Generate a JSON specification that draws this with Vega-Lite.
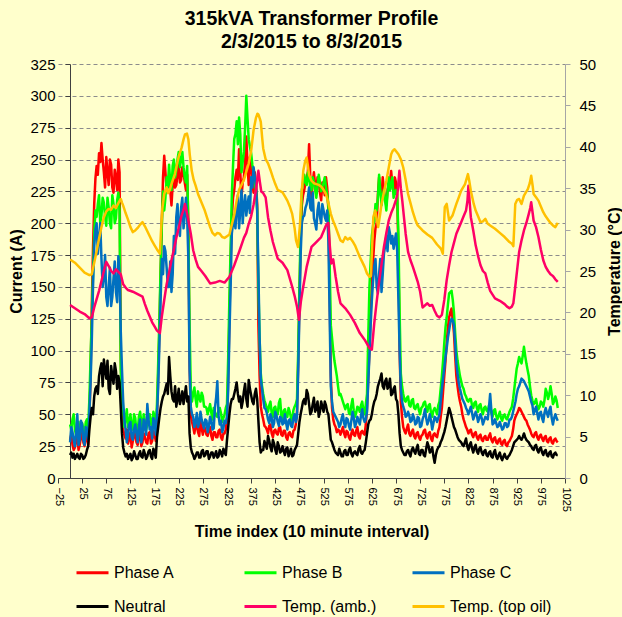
{
  "$schema": "https://vega.github.io/schema/vega-lite/v6.json",
  "autosize": "none",
  "width": 507,
  "height": 414,
  "padding": {"left": 58, "top": 64, "right": 57, "bottom": 139},
  "background": "#FFFFCC",
  "config": {
    "view": {"stroke": null},
    "font": "Liberation Sans",
    "axis": {"labelFont": "Liberation Sans", "titleFont": "Liberation Sans", "labelColor": "#000000", "titleColor": "#000000", "labelFontSize": 15, "titleFontSize": 16, "titleFontWeight": "bold"},
    "legend": {"padding": 0}
  },
  "title": {"text": ["315kVA Transformer Profile", "2/3/2015 to 8/3/2015"], "font": "Liberation Sans", "fontSize": 19.5, "fontWeight": "bold", "color": "#000000", "anchor": "middle", "offset": 5, "lineHeight": 23},
  "datasets": {
    "cur": [
      {"x":0,"a":30,"b":42,"c":28,"n":18},{"x":5,"a":26,"b":46,"c":36,"n":16},{"x":10,"a":24,"b":38,"c":25,"n":15},{"x":15,"a":33,"b":40,"c":50,"n":19},{"x":20,"a":26,"b":35,"c":30,"n":15},
      {"x":25,"a":36,"b":43,"c":42,"n":18},{"x":30,"a":25,"b":34,"c":26,"n":16},{"x":35,"a":31,"b":46,"c":38,"n":22},{"x":40,"a":48,"b":62,"c":52,"n":38},{"x":45,"a":135,"b":125,"c":108,"n":55},
      {"x":50,"a":215,"b":192,"c":182,"n":64},{"x":55,"a":245,"b":205,"c":200,"n":72},{"x":60,"a":255,"b":222,"c":188,"n":80},{"x":65,"a":263,"b":206,"c":172,"n":90},{"x":70,"a":240,"b":216,"c":158,"n":93},
      {"x":75,"a":252,"b":198,"c":142,"n":78},{"x":80,"a":230,"b":212,"c":150,"n":70},{"x":85,"a":246,"b":196,"c":135,"n":88},{"x":90,"a":224,"b":215,"c":157,"n":74},{"x":95,"a":236,"b":204,"c":146,"n":84},
      {"x":100,"a":250,"b":224,"c":174,"n":80},{"x":105,"a":95,"b":85,"c":115,"n":55},{"x":110,"a":38,"b":52,"c":60,"n":24},{"x":115,"a":31,"b":46,"c":38,"n":17},{"x":120,"a":27,"b":40,"c":34,"n":15},
      {"x":125,"a":36,"b":50,"c":44,"n":19},{"x":130,"a":29,"b":38,"c":30,"n":16},{"x":135,"a":33,"b":47,"c":42,"n":18},{"x":140,"a":26,"b":36,"c":28,"n":15},{"x":145,"a":35,"b":52,"c":46,"n":21},
      {"x":150,"a":28,"b":39,"c":33,"n":16},{"x":155,"a":32,"b":45,"c":40,"n":19},{"x":160,"a":27,"b":42,"c":58,"n":17},{"x":165,"a":36,"b":50,"c":38,"n":22},{"x":170,"a":29,"b":38,"c":31,"n":15},
      {"x":175,"a":34,"b":48,"c":44,"n":20},{"x":180,"a":48,"b":58,"c":50,"n":32},{"x":185,"a":115,"b":125,"c":105,"n":48},{"x":190,"a":200,"b":198,"c":172,"n":60},{"x":195,"a":253,"b":210,"c":182,"n":66},
      {"x":200,"a":226,"b":236,"c":165,"n":74},{"x":205,"a":238,"b":246,"c":150,"n":95},{"x":210,"a":214,"b":226,"c":146,"n":68},{"x":215,"a":242,"b":250,"c":190,"n":60},{"x":220,"a":230,"b":242,"c":205,"n":56},
      {"x":225,"a":246,"b":256,"c":198,"n":70},{"x":230,"a":234,"b":250,"c":212,"n":62},{"x":235,"a":240,"b":244,"c":196,"n":58},{"x":240,"a":226,"b":232,"c":220,"n":72},{"x":245,"a":200,"b":192,"c":172,"n":64},
      {"x":250,"a":50,"b":70,"c":56,"n":24},{"x":255,"a":40,"b":66,"c":48,"n":18},{"x":260,"a":42,"b":62,"c":44,"n":17},{"x":265,"a":36,"b":68,"c":40,"n":20},{"x":270,"a":44,"b":60,"c":52,"n":16},
      {"x":275,"a":34,"b":64,"c":42,"n":22},{"x":280,"a":38,"b":56,"c":46,"n":18},{"x":285,"a":33,"b":50,"c":36,"n":21},{"x":290,"a":40,"b":58,"c":48,"n":17},{"x":295,"a":30,"b":46,"c":38,"n":20},
      {"x":300,"a":36,"b":52,"c":55,"n":18},{"x":305,"a":32,"b":48,"c":76,"n":16},{"x":310,"a":38,"b":55,"c":42,"n":22},{"x":315,"a":30,"b":44,"c":36,"n":17},{"x":320,"a":35,"b":50,"c":45,"n":20},
      {"x":325,"a":46,"b":58,"c":48,"n":30},{"x":330,"a":125,"b":142,"c":112,"n":50},{"x":335,"a":205,"b":222,"c":192,"n":62},{"x":340,"a":226,"b":266,"c":206,"n":66},{"x":345,"a":242,"b":280,"c":212,"n":75},
      {"x":350,"a":258,"b":283,"c":196,"n":60},{"x":355,"a":220,"b":240,"c":226,"n":55},{"x":360,"a":236,"b":256,"c":214,"n":68},{"x":365,"a":268,"b":300,"c":206,"n":62},{"x":370,"a":230,"b":266,"c":221,"n":77},
      {"x":375,"a":246,"b":255,"c":236,"n":65},{"x":380,"a":224,"b":240,"c":244,"n":58},{"x":385,"a":232,"b":226,"c":230,"n":70},{"x":390,"a":120,"b":150,"c":162,"n":45},{"x":395,"a":56,"b":82,"c":78,"n":20},
      {"x":400,"a":46,"b":66,"c":62,"n":22},{"x":405,"a":40,"b":58,"c":54,"n":26},{"x":410,"a":35,"b":52,"c":46,"n":33},{"x":415,"a":42,"b":60,"c":50,"n":24},{"x":420,"a":32,"b":48,"c":40,"n":30},
      {"x":425,"a":38,"b":56,"c":52,"n":22},{"x":430,"a":34,"b":50,"c":44,"n":28},{"x":435,"a":40,"b":62,"c":48,"n":20},{"x":440,"a":33,"b":46,"c":42,"n":25},{"x":445,"a":37,"b":54,"c":50,"n":18},
      {"x":450,"a":30,"b":48,"c":38,"n":24},{"x":455,"a":36,"b":52,"c":46,"n":20},{"x":460,"a":32,"b":44,"c":40,"n":17},{"x":465,"a":38,"b":56,"c":50,"n":22},{"x":470,"a":52,"b":62,"c":48,"n":26},
      {"x":475,"a":140,"b":150,"c":130,"n":44},{"x":480,"a":214,"b":226,"c":200,"n":55},{"x":485,"a":226,"b":238,"c":206,"n":62},{"x":490,"a":236,"b":230,"c":215,"n":69},{"x":495,"a":262,"b":236,"c":228,"n":58},
      {"x":500,"a":220,"b":226,"c":210,"n":52},{"x":505,"a":240,"b":232,"c":204,"n":63},{"x":510,"a":224,"b":220,"c":195,"n":55},{"x":515,"a":232,"b":238,"c":216,"n":48},{"x":520,"a":218,"b":225,"c":200,"n":60},
      {"x":525,"a":228,"b":232,"c":210,"n":52},{"x":530,"a":236,"b":228,"c":202,"n":57},{"x":535,"a":210,"b":214,"c":186,"n":50},{"x":540,"a":80,"b":120,"c":72,"n":30},{"x":545,"a":46,"b":100,"c":52,"n":25},
      {"x":550,"a":40,"b":86,"c":48,"n":20},{"x":555,"a":38,"b":72,"c":44,"n":18},{"x":560,"a":34,"b":66,"c":42,"n":20},{"x":565,"a":40,"b":60,"c":50,"n":17},{"x":570,"a":32,"b":54,"c":40,"n":22},
      {"x":575,"a":36,"b":58,"c":46,"n":18},{"x":580,"a":30,"b":50,"c":38,"n":24},{"x":585,"a":38,"b":62,"c":52,"n":17},{"x":590,"a":33,"b":48,"c":40,"n":21},{"x":595,"a":40,"b":56,"c":48,"n":18},
      {"x":600,"a":31,"b":52,"c":42,"n":25},{"x":605,"a":37,"b":60,"c":54,"n":19},{"x":610,"a":34,"b":50,"c":44,"n":22},{"x":615,"a":55,"b":66,"c":52,"n":35},{"x":620,"a":100,"b":150,"c":96,"n":45},
      {"x":625,"a":150,"b":190,"c":140,"n":50},{"x":630,"a":186,"b":202,"c":166,"n":60},{"x":635,"a":200,"b":210,"c":150,"n":66},{"x":640,"a":236,"b":238,"c":160,"n":75},{"x":645,"a":220,"b":214,"c":146,"n":82},
      {"x":650,"a":226,"b":226,"c":176,"n":70},{"x":655,"a":214,"b":210,"c":190,"n":78},{"x":660,"a":230,"b":236,"c":197,"n":72},{"x":665,"a":241,"b":230,"c":184,"n":65},{"x":670,"a":224,"b":220,"c":180,"n":70},
      {"x":675,"a":232,"b":226,"c":192,"n":62},{"x":680,"a":180,"b":190,"c":140,"n":50},{"x":685,"a":60,"b":82,"c":70,"n":25},{"x":690,"a":40,"b":66,"c":56,"n":20},{"x":695,"a":35,"b":60,"c":48,"n":18},
      {"x":700,"a":42,"b":64,"c":52,"n":22},{"x":705,"a":33,"b":56,"c":44,"n":17},{"x":710,"a":38,"b":62,"c":50,"n":24},{"x":715,"a":31,"b":54,"c":42,"n":19},{"x":720,"a":36,"b":58,"c":48,"n":26},
      {"x":725,"a":30,"b":50,"c":40,"n":18},{"x":730,"a":34,"b":56,"c":46,"n":22},{"x":735,"a":38,"b":60,"c":54,"n":17},{"x":740,"a":31,"b":52,"c":42,"n":28},{"x":745,"a":36,"b":58,"c":50,"n":20},
      {"x":750,"a":29,"b":48,"c":38,"n":24},{"x":755,"a":35,"b":55,"c":48,"n":12},{"x":760,"a":32,"b":50,"c":44,"n":22},{"x":765,"a":40,"b":60,"c":50,"n":25},{"x":770,"a":55,"b":80,"c":70,"n":30},
      {"x":775,"a":80,"b":106,"c":86,"n":36},{"x":780,"a":106,"b":126,"c":102,"n":45},{"x":785,"a":126,"b":145,"c":116,"n":55},{"x":790,"a":133,"b":147,"c":125,"n":48},{"x":795,"a":114,"b":130,"c":120,"n":40},
      {"x":800,"a":80,"b":100,"c":90,"n":35},{"x":805,"a":65,"b":86,"c":75,"n":30},{"x":810,"a":56,"b":76,"c":66,"n":28},{"x":815,"a":46,"b":70,"c":60,"n":25},{"x":820,"a":40,"b":64,"c":55,"n":31},
      {"x":825,"a":35,"b":60,"c":50,"n":22},{"x":830,"a":38,"b":62,"c":56,"n":28},{"x":835,"a":32,"b":55,"c":46,"n":20},{"x":840,"a":36,"b":60,"c":52,"n":26},{"x":845,"a":30,"b":52,"c":44,"n":19},
      {"x":850,"a":34,"b":58,"c":50,"n":24},{"x":855,"a":29,"b":50,"c":42,"n":18},{"x":860,"a":33,"b":56,"c":48,"n":22},{"x":865,"a":30,"b":52,"c":46,"n":17},{"x":870,"a":35,"b":58,"c":66,"n":21},
      {"x":875,"a":28,"b":48,"c":42,"n":16},{"x":880,"a":32,"b":54,"c":46,"n":22},{"x":885,"a":27,"b":46,"c":40,"n":15},{"x":890,"a":31,"b":52,"c":44,"n":20},{"x":895,"a":26,"b":45,"c":38,"n":14},
      {"x":900,"a":30,"b":50,"c":43,"n":19},{"x":905,"a":25,"b":46,"c":40,"n":15},{"x":910,"a":29,"b":52,"c":46,"n":18},{"x":915,"a":33,"b":56,"c":48,"n":22},{"x":920,"a":45,"b":70,"c":56,"n":28},
      {"x":925,"a":50,"b":86,"c":66,"n":30},{"x":930,"a":55,"b":95,"c":72,"n":33},{"x":935,"a":52,"b":90,"c":78,"n":30},{"x":940,"a":48,"b":103,"c":76,"n":35},{"x":945,"a":45,"b":90,"c":72,"n":30},
      {"x":950,"a":40,"b":80,"c":68,"n":28},{"x":955,"a":35,"b":65,"c":60,"n":25},{"x":960,"a":32,"b":58,"c":50,"n":22},{"x":965,"a":36,"b":62,"c":56,"n":26},{"x":970,"a":30,"b":54,"c":46,"n":20},
      {"x":975,"a":34,"b":60,"c":52,"n":24},{"x":980,"a":29,"b":56,"c":44,"n":18},{"x":985,"a":33,"b":70,"c":55,"n":22},{"x":990,"a":28,"b":62,"c":48,"n":17},{"x":995,"a":32,"b":72,"c":56,"n":21},
      {"x":1000,"a":27,"b":58,"c":42,"n":16},{"x":1005,"a":31,"b":64,"c":50,"n":20},{"x":1010,"a":28,"b":55,"c":45,"n":18},
      {"x":2.5,"a":34,"b":38,"c":40,"n":20},{"x":7.5,"a":22,"b":50,"c":30,"n":19},{"x":12.5,"a":30,"b":34,"c":36,"n":17},{"x":17.5,"a":22,"b":44,"c":26,"n":16},{"x":22.5,"a":32,"b":40,"c":45,"n":19},
      {"x":27.5,"a":28,"b":38,"c":30,"n":15},{"x":32.5,"a":34,"b":44,"c":40,"n":18},{"x":37.5,"a":26,"b":40,"c":30,"n":25},{"x":42.5,"a":80,"b":95,"c":75,"n":48},{"x":47.5,"a":180,"b":160,"c":150,"n":50},
      {"x":52.5,"a":235,"b":210,"c":195,"n":70},{"x":57.5,"a":238,"b":215,"c":176,"n":66},{"x":62.5,"a":248,"b":200,"c":200,"n":86},{"x":67.5,"a":250,"b":220,"c":150,"n":72},{"x":72.5,"a":228,"b":205,"c":175,"n":85},
      {"x":77.5,"a":240,"b":220,"c":135,"n":92},{"x":82.5,"a":250,"b":200,"c":165,"n":66},{"x":87.5,"a":228,"b":222,"c":142,"n":80},{"x":92.5,"a":242,"b":200,"c":170,"n":90},{"x":97.5,"a":226,"b":218,"c":138,"n":70},
      {"x":102.5,"a":240,"b":210,"c":160,"n":75},{"x":107.5,"a":50,"b":60,"c":85,"n":35},{"x":112.5,"a":34,"b":40,"c":46,"n":20},{"x":117.5,"a":38,"b":54,"c":28,"n":19},{"x":122.5,"a":31,"b":44,"c":42,"n":17},
      {"x":127.5,"a":24,"b":40,"c":32,"n":14},{"x":132.5,"a":37,"b":50,"c":38,"n":21},{"x":137.5,"a":28,"b":36,"c":35,"n":15},{"x":142.5,"a":33,"b":48,"c":40,"n":19},{"x":147.5,"a":25,"b":44,"c":28,"n":17},
      {"x":152.5,"a":35,"b":50,"c":46,"n":22},{"x":157.5,"a":28,"b":38,"c":34,"n":15},{"x":162.5,"a":35,"b":50,"c":46,"n":21},{"x":167.5,"a":27,"b":44,"c":40,"n":17},{"x":172.5,"a":37,"b":52,"c":47,"n":23},
      {"x":177.5,"a":29,"b":42,"c":34,"n":16},{"x":182.5,"a":80,"b":90,"c":72,"n":40},{"x":187.5,"a":160,"b":165,"c":140,"n":55},{"x":192.5,"a":236,"b":225,"c":160,"n":64},{"x":197.5,"a":240,"b":220,"c":178,"n":70},
      {"x":202.5,"a":232,"b":228,"c":150,"n":66},{"x":207.5,"a":226,"b":232,"c":170,"n":80},{"x":212.5,"a":230,"b":245,"c":160,"n":62},{"x":217.5,"a":228,"b":236,"c":176,"n":72},{"x":222.5,"a":238,"b":250,"c":215,"n":62},
      {"x":227.5,"a":232,"b":244,"c":190,"n":58},{"x":232.5,"a":244,"b":256,"c":220,"n":68},{"x":237.5,"a":232,"b":236,"c":206,"n":65},{"x":242.5,"a":238,"b":245,"c":205,"n":60},{"x":247.5,"a":90,"b":120,"c":85,"n":35},
      {"x":252.5,"a":44,"b":60,"c":50,"n":20},{"x":257.5,"a":35,"b":71,"c":40,"n":15},{"x":262.5,"a":41,"b":56,"c":51,"n":20},{"x":267.5,"a":33,"b":63,"c":43,"n":16},{"x":272.5,"a":39,"b":67,"c":46,"n":21},
      {"x":277.5,"a":41,"b":56,"c":39,"n":17},{"x":282.5,"a":34,"b":55,"c":45,"n":21},{"x":287.5,"a":38,"b":54,"c":41,"n":15},{"x":292.5,"a":33,"b":51,"c":45,"n":20},{"x":297.5,"a":36,"b":55,"c":39,"n":16},
      {"x":302.5,"a":32,"b":49,"c":63,"n":21},{"x":307.5,"a":37,"b":53,"c":49,"n":17},{"x":312.5,"a":32,"b":51,"c":45,"n":20},{"x":317.5,"a":35,"b":47,"c":39,"n":23},{"x":322.5,"a":38,"b":55,"c":43,"n":18},
      {"x":327.5,"a":80,"b":95,"c":70,"n":40},{"x":332.5,"a":170,"b":180,"c":150,"n":58},{"x":337.5,"a":220,"b":245,"c":200,"n":62},{"x":342.5,"a":236,"b":270,"c":196,"n":70},{"x":347.5,"a":234,"b":262,"c":222,"n":66},
      {"x":352.5,"a":240,"b":270,"c":210,"n":64},{"x":357.5,"a":232,"b":248,"c":200,"n":60},{"x":362.5,"a":248,"b":275,"c":222,"n":74},{"x":367.5,"a":245,"b":282,"c":215,"n":56},{"x":372.5,"a":252,"b":260,"c":208,"n":70},
      {"x":377.5,"a":232,"b":246,"c":228,"n":60},{"x":382.5,"a":240,"b":232,"c":236,"n":66},{"x":387.5,"a":215,"b":210,"c":210,"n":62},{"x":392.5,"a":80,"b":110,"c":110,"n":28},{"x":397.5,"a":50,"b":72,"c":70,"n":22},
      {"x":402.5,"a":41,"b":61,"c":55,"n":29},{"x":407.5,"a":38,"b":55,"c":51,"n":23},{"x":412.5,"a":41,"b":57,"c":43,"n":29},{"x":417.5,"a":35,"b":51,"c":47,"n":21},{"x":422.5,"a":37,"b":55,"c":43,"n":27},
      {"x":427.5,"a":35,"b":51,"c":49,"n":19},{"x":432.5,"a":39,"b":59,"c":41,"n":25},{"x":437.5,"a":34,"b":49,"c":47,"n":21},{"x":442.5,"a":37,"b":53,"c":43,"n":21},{"x":447.5,"a":32,"b":49,"c":43,"n":23},
      {"x":452.5,"a":35,"b":55,"c":45,"n":17},{"x":457.5,"a":33,"b":47,"c":41,"n":23},{"x":462.5,"a":37,"b":53,"c":47,"n":18},{"x":467.5,"a":42,"b":58,"c":44,"n":24},{"x":472.5,"a":90,"b":100,"c":85,"n":35},
      {"x":477.5,"a":185,"b":195,"c":175,"n":50},{"x":482.5,"a":222,"b":232,"c":205,"n":60},{"x":487.5,"a":232,"b":232,"c":212,"n":58},{"x":492.5,"a":240,"b":240,"c":220,"n":66},{"x":497.5,"a":236,"b":228,"c":212,"n":50},
      {"x":502.5,"a":232,"b":236,"c":224,"n":58},{"x":507.5,"a":230,"b":226,"c":200,"n":52},{"x":512.5,"a":236,"b":230,"c":210,"n":60},{"x":517.5,"a":224,"b":232,"c":205,"n":52},{"x":522.5,"a":232,"b":228,"c":215,"n":56},
      {"x":527.5,"a":222,"b":236,"c":205,"n":60},{"x":532.5,"a":228,"b":222,"c":210,"n":52},{"x":537.5,"a":150,"b":170,"c":130,"n":40},{"x":542.5,"a":55,"b":110,"c":60,"n":28},{"x":547.5,"a":42,"b":92,"c":50,"n":22},
      {"x":552.5,"a":36,"b":80,"c":46,"n":19},{"x":557.5,"a":37,"b":65,"c":40,"n":23},{"x":562.5,"a":37,"b":63,"c":47,"n":17},{"x":567.5,"a":35,"b":57,"c":43,"n":21},{"x":572.5,"a":37,"b":57,"c":47,"n":18},
      {"x":577.5,"a":32,"b":51,"c":41,"n":22},{"x":582.5,"a":35,"b":57,"c":45,"n":19},{"x":587.5,"a":34,"b":53,"c":47,"n":20},{"x":592.5,"a":37,"b":51,"c":43,"n":19},{"x":597.5,"a":33,"b":55,"c":45,"n":23},
      {"x":602.5,"a":36,"b":57,"c":49,"n":20},{"x":607.5,"a":35,"b":53,"c":47,"n":21},{"x":612.5,"a":42,"b":58,"c":46,"n":28},{"x":617.5,"a":78,"b":110,"c":75,"n":42},{"x":622.5,"a":130,"b":170,"c":120,"n":46},
      {"x":627.5,"a":170,"b":198,"c":155,"n":56},{"x":632.5,"a":196,"b":215,"c":172,"n":62},{"x":637.5,"a":222,"b":220,"c":145,"n":72},{"x":642.5,"a":224,"b":226,"c":172,"n":78},{"x":647.5,"a":236,"b":222,"c":160,"n":72},
      {"x":652.5,"a":218,"b":218,"c":182,"n":76},{"x":657.5,"a":226,"b":224,"c":178,"n":70},{"x":662.5,"a":232,"b":226,"c":192,"n":78},{"x":667.5,"a":230,"b":236,"c":190,"n":66},{"x":672.5,"a":236,"b":224,"c":186,"n":72},
      {"x":677.5,"a":220,"b":222,"c":178,"n":60},{"x":682.5,"a":100,"b":130,"c":100,"n":35},{"x":687.5,"a":48,"b":72,"c":60,"n":22},{"x":692.5,"a":37,"b":61,"c":53,"n":18},{"x":697.5,"a":39,"b":63,"c":49,"n":21},
      {"x":702.5,"a":35,"b":57,"c":49,"n":19},{"x":707.5,"a":36,"b":61,"c":45,"n":22},{"x":712.5,"a":33,"b":55,"c":47,"n":21},{"x":717.5,"a":35,"b":57,"c":43,"n":23},{"x":722.5,"a":32,"b":53,"c":47,"n":19},
      {"x":727.5,"a":33,"b":55,"c":41,"n":22},{"x":732.5,"a":37,"b":59,"c":49,"n":18},{"x":737.5,"a":33,"b":55,"c":47,"n":23},{"x":742.5,"a":35,"b":57,"c":45,"n":25},{"x":747.5,"a":31,"b":51,"c":45,"n":21},
      {"x":752.5,"a":34,"b":53,"c":43,"n":17},{"x":757.5,"a":33,"b":53,"c":47,"n":18},{"x":762.5,"a":37,"b":57,"c":47,"n":24},{"x":767.5,"a":48,"b":70,"c":60,"n":28},{"x":772.5,"a":68,"b":92,"c":78,"n":33},
      {"x":777.5,"a":92,"b":118,"c":95,"n":40},{"x":782.5,"a":118,"b":136,"c":110,"n":50},{"x":787.5,"a":130,"b":146,"c":122,"n":52},{"x":792.5,"a":124,"b":140,"c":124,"n":44},{"x":797.5,"a":96,"b":114,"c":106,"n":38},
      {"x":802.5,"a":72,"b":92,"c":82,"n":32},{"x":807.5,"a":60,"b":80,"c":70,"n":29},{"x":812.5,"a":50,"b":72,"c":62,"n":26},{"x":817.5,"a":43,"b":66,"c":58,"n":28},{"x":822.5,"a":38,"b":61,"c":53,"n":25},
      {"x":827.5,"a":37,"b":62,"c":53,"n":26},{"x":832.5,"a":34,"b":57,"c":51,"n":23},{"x":837.5,"a":35,"b":59,"c":49,"n":24},{"x":842.5,"a":32,"b":55,"c":49,"n":21},{"x":847.5,"a":33,"b":57,"c":47,"n":23},
      {"x":852.5,"a":30,"b":53,"c":47,"n":20},{"x":857.5,"a":32,"b":55,"c":45,"n":21},{"x":862.5,"a":30,"b":53,"c":47,"n":18},{"x":867.5,"a":33,"b":57,"c":55,"n":20},{"x":872.5,"a":30,"b":51,"c":53,"n":17},
      {"x":877.5,"a":31,"b":53,"c":43,"n":20},{"x":882.5,"a":28,"b":49,"c":43,"n":17},{"x":887.5,"a":30,"b":49,"c":41,"n":18},{"x":892.5,"a":27,"b":47,"c":41,"n":16},{"x":897.5,"a":29,"b":49,"c":39,"n":17},
      {"x":902.5,"a":26,"b":47,"c":43,"n":16},{"x":907.5,"a":28,"b":49,"c":41,"n":17},{"x":912.5,"a":31,"b":54,"c":46,"n":20},{"x":917.5,"a":38,"b":62,"c":52,"n":25},{"x":922.5,"a":48,"b":78,"c":60,"n":29},
      {"x":927.5,"a":52,"b":90,"c":70,"n":31},{"x":932.5,"a":54,"b":92,"c":75,"n":31},{"x":937.5,"a":50,"b":96,"c":77,"n":32},{"x":942.5,"a":46,"b":96,"c":74,"n":32},{"x":947.5,"a":42,"b":85,"c":70,"n":29},
      {"x":952.5,"a":38,"b":72,"c":64,"n":26},{"x":957.5,"a":33,"b":61,"c":57,"n":23},{"x":962.5,"a":35,"b":59,"c":53,"n":25},{"x":967.5,"a":32,"b":57,"c":51,"n":22},{"x":972.5,"a":33,"b":56,"c":51,"n":23},
      {"x":977.5,"a":31,"b":59,"c":47,"n":20},{"x":982.5,"a":32,"b":61,"c":51,"n":21},{"x":987.5,"a":29,"b":67,"c":51,"n":18},{"x":992.5,"a":31,"b":66,"c":53,"n":20},{"x":997.5,"a":28,"b":66,"c":47,"n":17},
      {"x":1002.5,"a":30,"b":60,"c":47,"n":19},{"x":1007.5,"a":29,"b":61,"c":47,"n":18}
    ],
    "amb": [
      {"x":0,"t":20.9},{"x":10,"t":20.5},{"x":20,"t":20.1},{"x":30,"t":19.8},{"x":40,"t":19.3},{"x":45,"t":19.4},{"x":50,"t":20.6},{"x":55,"t":21.6},{"x":60,"t":22.6},{"x":65,"t":23.8},
      {"x":70,"t":25.0},{"x":75,"t":26.1},{"x":80,"t":25.6},{"x":85,"t":25.0},{"x":90,"t":24.7},{"x":95,"t":25.2},{"x":100,"t":24.9},{"x":105,"t":24.6},{"x":110,"t":23.4},{"x":115,"t":23.0},
      {"x":120,"t":22.7},{"x":130,"t":22.5},{"x":140,"t":22.2},{"x":150,"t":21.9},{"x":155,"t":21.0},{"x":160,"t":20.2},{"x":165,"t":19.5},{"x":170,"t":18.8},{"x":175,"t":18.3},{"x":180,"t":17.8},
      {"x":186,"t":17.5},{"x":190,"t":19.5},{"x":195,"t":21.5},{"x":200,"t":23.4},{"x":205,"t":24.8},{"x":210,"t":26.3},{"x":215,"t":27.6},{"x":220,"t":29.0},{"x":225,"t":30.2},{"x":230,"t":31.5},
      {"x":235,"t":32.4},{"x":238,"t":33.1},{"x":242,"t":32.0},{"x":245,"t":31.1},{"x":250,"t":29.5},{"x":255,"t":27.5},{"x":260,"t":26.4},{"x":265,"t":25.5},{"x":272,"t":25.0},{"x":280,"t":24.4},
      {"x":290,"t":23.5},{"x":300,"t":23.6},{"x":310,"t":23.8},{"x":320,"t":23.6},{"x":330,"t":24.3},{"x":340,"t":25.7},{"x":350,"t":27.3},{"x":360,"t":29.0},{"x":365,"t":29.6},{"x":370,"t":30.7},
      {"x":375,"t":31.6},{"x":380,"t":33.0},{"x":385,"t":34.8},{"x":390,"t":37.1},{"x":393,"t":35.8},{"x":396,"t":34.6},{"x":400,"t":34.4},{"x":405,"t":33.9},{"x":410,"t":31.5},{"x":415,"t":29.9},
      {"x":420,"t":28.5},{"x":430,"t":26.5},{"x":440,"t":26.0},{"x":450,"t":25.1},{"x":460,"t":23.1},{"x":465,"t":22.0},{"x":470,"t":20.7},{"x":474,"t":19.1},{"x":478,"t":21.3},{"x":482,"t":22.8},
      {"x":490,"t":25.5},{"x":500,"t":27.9},{"x":510,"t":28.5},{"x":520,"t":29.1},{"x":530,"t":30.5},{"x":535,"t":30.8},{"x":538,"t":28.0},{"x":541,"t":25.9},{"x":545,"t":26.4},{"x":550,"t":24.3},
      {"x":555,"t":22.5},{"x":560,"t":21.1},{"x":570,"t":20.5},{"x":580,"t":19.7},{"x":590,"t":18.7},{"x":600,"t":17.5},{"x":610,"t":16.7},{"x":620,"t":15.7},{"x":625,"t":15.5},{"x":630,"t":18.7},
      {"x":635,"t":21.3},{"x":640,"t":23.7},{"x":645,"t":25.8},{"x":650,"t":27.9},{"x":655,"t":29.6},{"x":660,"t":31.1},{"x":665,"t":32.0},{"x":670,"t":32.7},{"x":675,"t":33.6},{"x":678,"t":34.3},
      {"x":682,"t":37.1},{"x":685,"t":35.0},{"x":688,"t":33.5},{"x":692,"t":31.2},{"x":695,"t":29.5},{"x":700,"t":27.3},{"x":705,"t":26.3},{"x":710,"t":25.5},{"x":720,"t":23.7},{"x":725,"t":22.5},
      {"x":730,"t":20.6},{"x":740,"t":21.1},{"x":745,"t":20.8},{"x":750,"t":20.9},{"x":755,"t":20.2},{"x":760,"t":19.6},{"x":765,"t":19.4},{"x":770,"t":19.7},{"x":775,"t":21.5},{"x":780,"t":23.9},
      {"x":785,"t":25.7},{"x":790,"t":27.3},{"x":795,"t":28.4},{"x":800,"t":29.5},{"x":805,"t":30.2},{"x":810,"t":30.9},{"x":815,"t":31.6},{"x":820,"t":32.3},{"x":823,"t":33.5},{"x":825,"t":35.3},
      {"x":828,"t":33.0},{"x":830,"t":31.5},{"x":835,"t":29.9},{"x":840,"t":28.1},{"x":845,"t":26.8},{"x":850,"t":25.7},{"x":855,"t":25.0},{"x":860,"t":24.7},{"x":865,"t":23.6},{"x":870,"t":22.6},
      {"x":880,"t":21.7},{"x":890,"t":21.4},{"x":900,"t":21.0},{"x":905,"t":20.7},{"x":910,"t":20.5},{"x":915,"t":20.7},{"x":918,"t":21.1},{"x":922,"t":23.1},{"x":926,"t":25.2},{"x":930,"t":27.3},
      {"x":935,"t":28.7},{"x":940,"t":29.9},{"x":945,"t":30.8},{"x":950,"t":31.9},{"x":953,"t":32.6},{"x":955,"t":33.3},{"x":958,"t":32.0},{"x":960,"t":31.1},{"x":965,"t":30.3},{"x":970,"t":29.1},
      {"x":975,"t":27.6},{"x":980,"t":26.3},{"x":985,"t":25.5},{"x":990,"t":25.0},{"x":995,"t":24.6},{"x":1000,"t":24.4},{"x":1005,"t":24.0},{"x":1010,"t":23.7}
    ],
    "oil": [
      {"x":0,"o":26.4},{"x":10,"o":26.0},{"x":20,"o":25.4},{"x":30,"o":24.8},{"x":40,"o":24.5},{"x":45,"o":24.6},{"x":50,"o":26.0},{"x":55,"o":27.4},{"x":60,"o":28.9},{"x":65,"o":30.3},
      {"x":70,"o":31.5},{"x":75,"o":32.2},{"x":80,"o":32.5},{"x":85,"o":32.4},{"x":90,"o":32.9},{"x":95,"o":32.6},{"x":100,"o":33.2},{"x":105,"o":33.7},{"x":108,"o":33.2},{"x":110,"o":32.9},
      {"x":115,"o":32.0},{"x":120,"o":31.2},{"x":125,"o":30.3},{"x":130,"o":29.7},{"x":135,"o":29.9},{"x":140,"o":30.2},{"x":145,"o":30.6},{"x":150,"o":30.9},{"x":155,"o":30.4},{"x":160,"o":29.8},
      {"x":165,"o":29.2},{"x":170,"o":28.6},{"x":175,"o":28.1},{"x":180,"o":27.6},{"x":186,"o":27.1},{"x":188,"o":29.5},{"x":191,"o":32.5},{"x":195,"o":34.3},{"x":200,"o":35.1},{"x":203,"o":34.4},
      {"x":206,"o":34.7},{"x":210,"o":35.5},{"x":217,"o":36.7},{"x":221,"o":37.8},{"x":225,"o":38.8},{"x":231,"o":39.9},{"x":235,"o":40.9},{"x":238,"o":41.5},{"x":242,"o":41.6},{"x":245,"o":40.9},
      {"x":248,"o":39.0},{"x":252,"o":37.1},{"x":256,"o":36.0},{"x":260,"o":35.3},{"x":265,"o":34.3},{"x":272,"o":33.3},{"x":279,"o":32.3},{"x":285,"o":31.2},{"x":290,"o":30.3},{"x":295,"o":29.6},
      {"x":300,"o":29.3},{"x":305,"o":29.6},{"x":310,"o":29.5},{"x":315,"o":29.1},{"x":320,"o":29.0},{"x":325,"o":29.2},{"x":330,"o":29.4},{"x":335,"o":30.6},{"x":340,"o":31.8},{"x":345,"o":33.5},
      {"x":350,"o":34.8},{"x":355,"o":35.4},{"x":360,"o":36.0},{"x":365,"o":37.0},{"x":370,"o":38.0},{"x":375,"o":39.5},{"x":380,"o":42.0},{"x":385,"o":43.5},{"x":388,"o":44.0},{"x":390,"o":43.9},
      {"x":393,"o":43.4},{"x":395,"o":43.0},{"x":398,"o":41.0},{"x":400,"o":39.8},{"x":405,"o":38.5},{"x":410,"o":38.0},{"x":415,"o":37.2},{"x":420,"o":36.3},{"x":425,"o":35.5},{"x":430,"o":34.8},
      {"x":440,"o":34.5},{"x":445,"o":34.0},{"x":450,"o":33.5},{"x":455,"o":32.8},{"x":460,"o":31.9},{"x":465,"o":30.2},{"x":468,"o":28.7},{"x":472,"o":27.9},{"x":476,"o":30.5},{"x":479,"o":34.0},
      {"x":483,"o":37.1},{"x":487,"o":38.3},{"x":490,"o":38.7},{"x":493,"o":37.5},{"x":495,"o":36.6},{"x":500,"o":35.9},{"x":505,"o":35.6},{"x":510,"o":35.5},{"x":515,"o":35.4},{"x":520,"o":35.2},
      {"x":525,"o":34.8},{"x":530,"o":34.3},{"x":535,"o":33.2},{"x":540,"o":31.9},{"x":545,"o":31.0},{"x":550,"o":30.3},{"x":555,"o":29.5},{"x":560,"o":28.7},{"x":565,"o":28.5},{"x":570,"o":29.1},
      {"x":575,"o":28.8},{"x":580,"o":29.0},{"x":585,"o":28.6},{"x":590,"o":28.1},{"x":595,"o":27.4},{"x":600,"o":26.7},{"x":605,"o":26.1},{"x":610,"o":25.5},{"x":615,"o":24.7},{"x":620,"o":24.3},
      {"x":623,"o":24.4},{"x":626,"o":28.5},{"x":628,"o":31.5},{"x":632,"o":32.3},{"x":635,"o":31.3},{"x":638,"o":30.3},{"x":642,"o":31.8},{"x":645,"o":33.1},{"x":650,"o":34.5},{"x":655,"o":35.9},
      {"x":660,"o":37.5},{"x":665,"o":39.1},{"x":668,"o":39.5},{"x":672,"o":39.7},{"x":676,"o":39.4},{"x":680,"o":39.1},{"x":685,"o":38.5},{"x":690,"o":37.5},{"x":695,"o":36.0},{"x":700,"o":34.3},
      {"x":705,"o":33.2},{"x":710,"o":32.1},{"x":715,"o":31.2},{"x":720,"o":30.5},{"x":730,"o":29.9},{"x":740,"o":29.4},{"x":750,"o":29.0},{"x":760,"o":28.2},{"x":768,"o":27.7},{"x":772,"o":27.1},
      {"x":774,"o":30.0},{"x":776,"o":32.7},{"x":780,"o":33.1},{"x":785,"o":31.1},{"x":792,"o":31.7},{"x":800,"o":33.1},{"x":805,"o":33.9},{"x":810,"o":34.7},{"x":818,"o":35.5},{"x":824,"o":36.7},
      {"x":827,"o":35.8},{"x":830,"o":34.7},{"x":836,"o":33.1},{"x":840,"o":32.3},{"x":845,"o":31.6},{"x":850,"o":30.9},{"x":855,"o":31.0},{"x":860,"o":31.3},{"x":865,"o":30.7},{"x":870,"o":30.5},
      {"x":880,"o":30.1},{"x":890,"o":29.6},{"x":900,"o":29.1},{"x":910,"o":28.5},{"x":915,"o":28.3},{"x":918,"o":28.0},{"x":920,"o":30.5},{"x":922,"o":33.1},{"x":926,"o":33.6},{"x":930,"o":33.7},
      {"x":935,"o":33.1},{"x":940,"o":34.1},{"x":944,"o":34.5},{"x":948,"o":34.9},{"x":952,"o":35.6},{"x":955,"o":36.5},{"x":958,"o":35.3},{"x":960,"o":34.3},{"x":965,"o":33.9},{"x":970,"o":33.5},
      {"x":975,"o":32.8},{"x":980,"o":32.1},{"x":985,"o":31.6},{"x":990,"o":31.2},{"x":995,"o":30.8},{"x":1000,"o":30.5},{"x":1005,"o":30.3},{"x":1010,"o":30.8}
    ]
  },
  "encoding": {
    "x": {
      "field": "x", "type": "quantitative",
      "scale": {"domain": [-25, 1025], "nice": false, "zero": false},
      "axis": {
        "title": "Time index (10 minute interval)",
        "values": [-25,25,75,125,175,225,275,325,375,425,475,525,575,625,675,725,775,825,875,925,975,1025],
        "format": "d",
        "labelAngle": 90, "labelFontSize": 11, "labelPadding": 4, "labelFlush": false, "labelOverlap": false,
        "domainColor": "#404040", "tickColor": "#404040", "tickSize": 5, "grid": false,
        "titleY": 53, "titleBaseline": "middle", "titleFontSize": 16
      }
    }
  },
  "layer": [
    {
      "data": {"name": "cur"},
      "transform": [{"fold": ["a", "b", "c", "n"], "as": ["k", "v"]}],
      "mark": {"type": "line", "strokeWidth": 2.5, "strokeJoin": "round"},
      "encoding": {
        "y": {
          "field": "v", "type": "quantitative",
          "scale": {"domain": [0, 325], "nice": false},
          "axis": {
            "title": "Current (A)", "orient": "left", "offset": -12,
            "values": [0,25,50,75,100,125,150,175,200,225,250,275,300,325],
            "grid": true, "gridDash": [4, 3], "gridColor": "#8c8c8c", "gridWidth": 1,
            "domainColor": "#404040", "tickColor": "#404040", "tickSize": 5, "labelPadding": 10,
            "titleX": -54, "titleY": 207, "titleAngle": 270, "titleAlign": "center", "titleBaseline": "middle"
          }
        },
        "color": {
          "field": "k", "type": "nominal",
          "scale": {"domain": ["a", "b", "c", "n", "t", "o"], "range": ["#FF0000", "#00FF00", "#0070C0", "#000000", "#FF0066", "#FFC000"]},
          "legend": {
            "title": null, "orient": "none", "legendX": 17, "legendY": 491, "direction": "horizontal", "columns": 3,
            "gridAlign": "all", "columnPadding": 22, "rowPadding": 8,
            "symbolType": "stroke", "symbolSize": 1024, "symbolStrokeWidth": 3,
            "labelFont": "Liberation Sans", "labelFontSize": 16, "labelColor": "#000000", "labelOffset": 4,
            "labelExpr": "datum.label == 'a' ? 'Phase A' : datum.label == 'b' ? 'Phase B' : datum.label == 'c' ? 'Phase C' : datum.label == 'n' ? 'Neutral' : datum.label == 't' ? 'Temp. (amb.)' : 'Temp. (top oil)'"
          }
        }
      }
    },
    {
      "layer": [
        {
          "data": {"name": "amb"},
          "transform": [{"fold": ["t"], "as": ["k", "v"]}],
          "mark": {"type": "line", "strokeWidth": 2.5, "strokeJoin": "round"},
          "encoding": {
            "y": {"field": "v", "type": "quantitative"},
            "color": {"field": "k", "type": "nominal"}
          }
        },
        {
          "data": {"name": "oil"},
          "transform": [{"fold": ["o"], "as": ["k", "v"]}],
          "mark": {"type": "line", "strokeWidth": 2.5, "strokeJoin": "round"},
          "encoding": {
            "y": {"field": "v", "type": "quantitative"},
            "color": {"field": "k", "type": "nominal"}
          }
        }
      ],
      "encoding": {
        "y": {
          "field": "v", "type": "quantitative",
          "scale": {"domain": [0, 50], "nice": false},
          "axis": {
            "title": "Temperature (°C)", "orient": "right",
            "values": [0,5,10,15,20,25,30,35,40,45,50],
            "grid": false, "domainColor": "#A6A6A6", "tickColor": "#A6A6A6", "tickSize": 5, "labelPadding": 9,
            "titleX": 49, "titleY": 207, "titleAngle": 270, "titleAlign": "center", "titleBaseline": "middle"
          }
        }
      }
    }
  ],
  "resolve": {"scale": {"y": "independent"}}
}
